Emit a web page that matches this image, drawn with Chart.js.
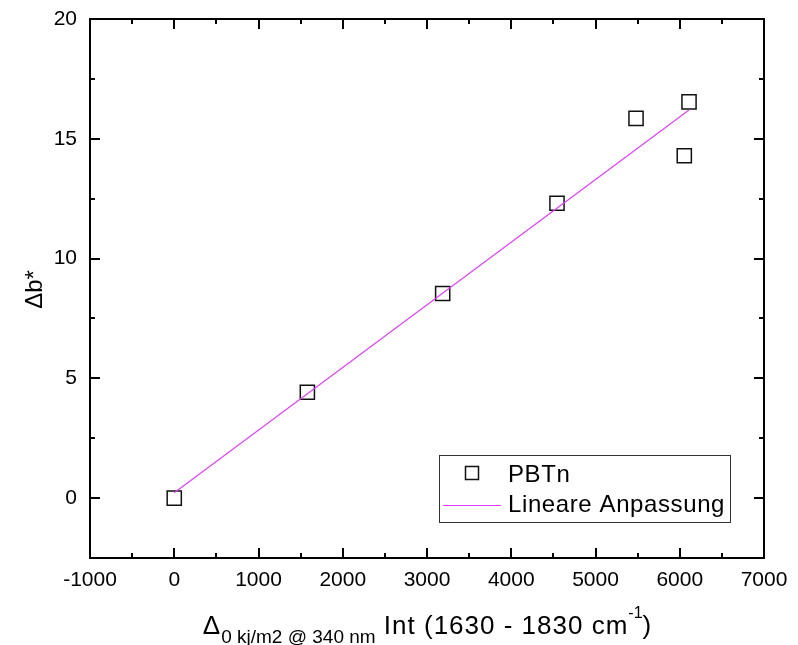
<!DOCTYPE html>
<html>
<head>
<meta charset="utf-8">
<script src="https://cdn.jsdelivr.net/npm/chart.js@4.4.1/dist/chart.umd.min.js"></script>
<style>
  body { margin: 0; background: #fff; }
  canvas { display: block; }
</style>
</head>
<body>
<canvas id="grafica" width="798" height="645"></canvas>
<script>
// datos
const pbtX = [0, 1580, 3186, 4543, 5481, 6054, 6110];
const pbtY = [0, 4.42, 8.54, 12.31, 15.85, 14.29, 16.54];
const fitX = [0, 6110];
const fitY = [0.22, 16.2];
const xTicks = [-1000, 0, 1000, 2000, 3000, 4000, 5000, 6000, 7000];
const yTicks = [0, 5, 10, 15, 20];
const serieNombres = ["PBTn", "Lineare Anpassung"];

const FONT = "'Liberation Sans', Arial, Helvetica, sans-serif";
const colorAjuste = "#e040fb";

// marco con ticks hacia adentro, titulos y leyenda
const marcoPlugin = {
    id: "marco",
    afterDraw(chart) {
        const ctx = chart.ctx;
        const a = chart.chartArea;
        const sx = chart.scales.x;
        const sy = chart.scales.y;
        ctx.save();
        ctx.strokeStyle = "#000";
        ctx.lineWidth = 2;
        ctx.strokeRect(a.left, a.top, a.right - a.left, a.bottom - a.top);

        // ticks x (mayores cada 1000, menores cada 500)
        for (let v = -1000; v <= 7000; v += 500) {
            const px = Math.round(sx.getPixelForValue(v));
            const len = (v % 1000 === 0) ? 10 : 5;
            ctx.beginPath();
            ctx.moveTo(px, a.bottom); ctx.lineTo(px, a.bottom - len);
            ctx.moveTo(px, a.top); ctx.lineTo(px, a.top + len);
            ctx.stroke();
        }
        // ticks y (mayores cada 5, menores cada 2.5)
        for (let v = -2.5; v <= 20; v += 2.5) {
            const py = Math.round(sy.getPixelForValue(v));
            const len = (v % 5 === 0) ? 10 : 5;
            ctx.beginPath();
            ctx.moveTo(a.left, py); ctx.lineTo(a.left + len, py);
            ctx.moveTo(a.right, py); ctx.lineTo(a.right - len, py);
            ctx.stroke();
        }

        // titulo eje y
        ctx.fillStyle = "#000";
        ctx.save();
        ctx.translate(42, (a.top + a.bottom) / 2 + 1);
        ctx.rotate(-Math.PI / 2);
        ctx.font = "24px " + FONT;
        ctx.textAlign = "center";
        ctx.textBaseline = "alphabetic";
        ctx.fillText("\u0394b*", 0, 0);
        ctx.restore();

        // titulo eje x con subindice y superindice
        const partes = [
            { t: "\u0394", size: 26, dy: 0, ls: "1px" },
            { t: "0 kj/m2 @ 340 nm", size: 19, dy: 9, ls: "0px" },
            { t: " Int (1630 - 1830 cm", size: 26, dy: 0, ls: "1px" },
            { t: "-1", size: 16, dy: -16, ls: "0px" },
            { t: ")", size: 26, dy: 0, ls: "0px" }
        ];
        let total = 0;
        partes.forEach(p => {
            ctx.letterSpacing = p.ls;
            ctx.font = p.size + "px " + FONT;
            p.w = ctx.measureText(p.t).width;
            total += p.w;
        });
        let x = (a.left + a.right) / 2 - total / 2;
        ctx.textAlign = "left";
        ctx.textBaseline = "alphabetic";
        partes.forEach(p => {
            ctx.letterSpacing = p.ls;
            ctx.font = p.size + "px " + FONT;
            ctx.fillText(p.t, x, 634 + p.dy);
            x += p.w;
        });

        // leyenda
        const lx = 439, ly = 455, lw = 291, lh = 67;
        ctx.fillStyle = "#fff";
        ctx.fillRect(lx, ly, lw, lh);
        ctx.strokeStyle = "#333";
        ctx.lineWidth = 1;
        ctx.strokeRect(lx + 0.5, ly + 0.5, lw, lh);
        ctx.strokeStyle = "#111";
        ctx.lineWidth = 1.5;
        ctx.strokeRect(465.5, 466.5, 13, 13);
        ctx.strokeStyle = colorAjuste;
        ctx.lineWidth = 1;
        ctx.beginPath();
        ctx.moveTo(443, 505.5); ctx.lineTo(501, 505.5);
        ctx.stroke();
        ctx.fillStyle = "#000";
        ctx.letterSpacing = "0.6px";
        ctx.font = "24px " + FONT;
        ctx.fillText(serieNombres[0], 508, 482);
        ctx.fillText(serieNombres[1], 508, 512);
        ctx.letterSpacing = "0px";
        ctx.restore();
    }
};

const ctxGrafica = document.getElementById("grafica").getContext("2d");
new Chart(ctxGrafica, {
    type: "scatter",
    data: {
        datasets: [{
            label: serieNombres[1],
            type: "line",
            data: fitX.map((x, i) => ({ x: x, y: fitY[i] })),
            borderColor: colorAjuste,
            borderWidth: 1.2,
            pointRadius: 0,
            showLine: true,
            fill: false,
            order: 1
        }, {
            label: serieNombres[0],
            data: pbtX.map((x, i) => ({ x: x, y: pbtY[i] })),
            pointStyle: "rect",
            pointRadius: 10,
            pointHoverRadius: 10,
            borderColor: "#111",
            borderWidth: 1.5,
            backgroundColor: "rgba(0,0,0,0)",
            order: 2
        }]
    },
    options: {
        responsive: false,
        animation: false,
        layout: { padding: { top: 19, right: 34, left: 0, bottom: 0 } },
        plugins: {
            legend: { display: false },
            tooltip: { enabled: false }
        },
        scales: {
            x: {
                type: "linear",
                min: -1000,
                max: 7000,
                afterBuildTicks: s => { s.ticks = xTicks.map(v => ({ value: v })); },
                afterFit: s => { s.height = 87; s.paddingLeft = 0; s.paddingRight = 0; },
                grid: { display: false, drawTicks: false },
                border: { display: false },
                ticks: {
                    padding: 10,
                    color: "#000",
                    font: { family: FONT, size: 21 },
                    maxRotation: 0,
                    autoSkip: false,
                    callback: v => String(v)
                }
            },
            y: {
                type: "linear",
                min: -2.5,
                max: 20,
                afterBuildTicks: s => { s.ticks = yTicks.map(v => ({ value: v })); },
                afterFit: s => { s.width = 90; s.paddingTop = 0; s.paddingBottom = 0; },
                grid: { display: false, drawTicks: false },
                border: { display: false },
                ticks: {
                    padding: 13,
                    color: "#000",
                    font: { family: FONT, size: 21 },
                    autoSkip: false,
                    callback: v => String(v)
                }
            }
        }
    },
    plugins: [marcoPlugin]
});
</script>
</body>
</html>
